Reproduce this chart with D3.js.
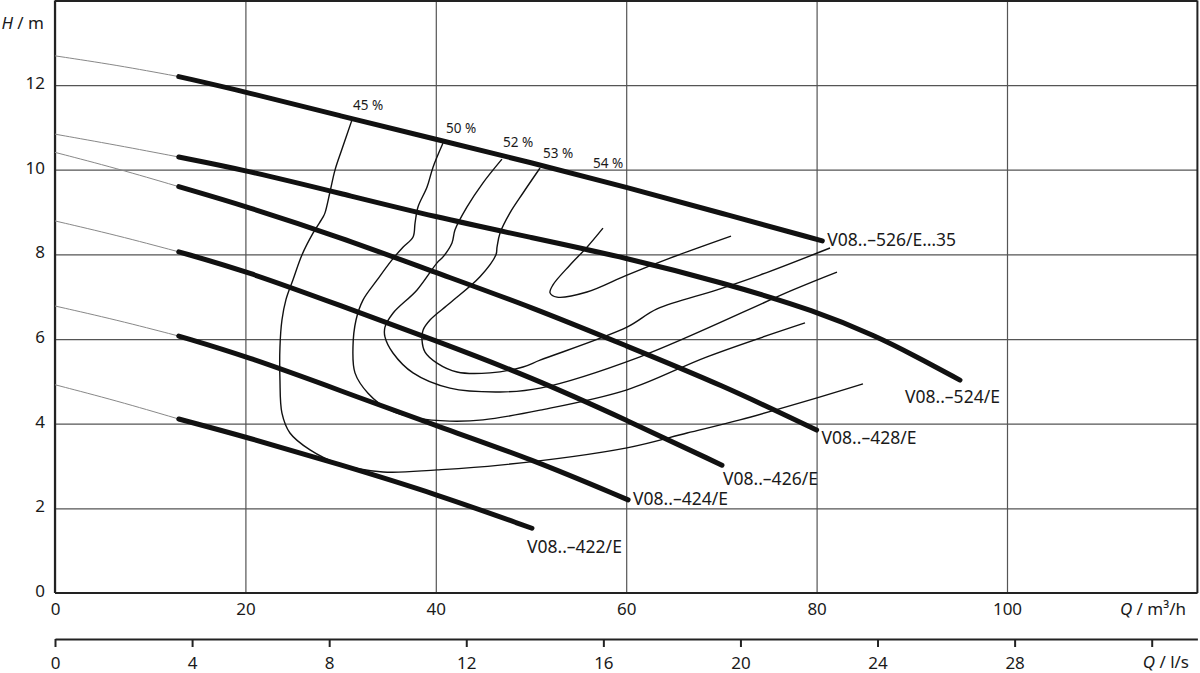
<!DOCTYPE html>
<html><head><meta charset="utf-8">
<script src="https://cdn.jsdelivr.net/npm/d3@7"></script>
<style>
body{margin:0;background:#fff}
svg{display:block}
text{font-family:"Noto Sans",sans-serif;fill:#1a1a1a}
</style>
</head><body>
<svg id="chart" width="1200" height="673"></svg>
<script>
// ---------- data ----------
const qTicks = [0, 20, 40, 60, 80, 100];
const hTicks = [0, 2, 4, 6, 8, 10, 12];
const lsTicks = [0, 4, 8, 12, 16, 20, 24, 28, 32];
const lsLabels = [0, 4, 8, 12, 16, 20, 24, 28];

const pumpNames = ["V08..–526/E…35", "V08..–524/E", "V08..–428/E", "V08..–426/E", "V08..–424/E", "V08..–422/E"];

// thick operating ranges [Q m3/h, H m]
const pump526 = [[13,12.2],[20,11.84],[30,11.27],[40,10.72],[50,10.17],[60,9.59],[70,8.97],[80.6,8.32]];
const pump524 = [[13,10.30],[20,9.99],[30,9.44],[40,8.88],[50,8.40],[60,7.92],[70,7.34],[80,6.66],[86.5,6.04],[90,5.64],[95.06,5.03]];
const pump428 = [[13,9.60],[20,9.14],[30,8.40],[40,7.57],[50,6.76],[60,5.84],[70,4.92],[80,3.85]];
const pump426 = [[13,8.06],[20,7.61],[30,6.79],[40,5.96],[50,5.10],[60,4.09],[70.06,3.02]];
const pump424 = [[13,6.07],[20,5.60],[30,4.78],[40,3.95],[50,3.17],[60.2,2.20]];
const pump422 = [[13,4.11],[20,3.69],[30,3.03],[40,2.34],[50.1,1.53]];

// thin extensions to zero flow
const ext526 = [[0,12.69],[6.5,12.47],[13,12.2]];
const ext524 = [[0,10.84],[6.5,10.58],[13,10.30]];
const ext428 = [[0,10.41],[6.5,10.03],[13,9.60]];
const ext426 = [[0,8.79],[6.5,8.45],[13,8.06]];
const ext424 = [[0,6.78],[6.5,6.45],[13,6.07]];
const ext422 = [[0,4.92],[6.5,4.54],[13,4.11]];

// iso-efficiency curves
const eff45 = [[31.17,11.16],[30.12,10.47],[29.41,9.99],[28.89,9.48],[28.36,8.98],[28.15,8.88],[27.10,8.50],[25.95,7.99],[25.0,7.40],[24.26,6.93],[23.84,6.45],[23.63,5.81],[23.63,5.03],[23.84,4.25],[24.68,3.78],[26.79,3.38],[29.62,3.07],[34.45,2.86],[40.13,2.91],[46.74,3.02],[60.08,3.43],[66.39,3.78],[71.95,4.09],[80.04,4.61],[84.87,4.94]];
const eff50 = [[40.76,10.63],[39.71,10.06],[39.08,9.59],[38.13,9.12],[37.82,8.74],[37.61,8.41],[36.55,8.17],[35.40,7.87],[33.82,7.39],[32.35,6.92],[31.62,6.45],[31.30,5.81],[31.51,5.20],[32.88,4.72],[35.19,4.32],[38.03,4.13],[41.49,4.06],[44.96,4.09],[50.95,4.32],[60.08,4.80],[68.49,5.58],[78.78,6.38]];
const eff52 = [[46.95,10.25],[44.96,9.69],[43.28,9.12],[42.02,8.58],[41.70,8.27],[40.76,7.94],[40.13,7.80],[38.03,7.16],[35.50,6.61],[34.66,6.28],[34.66,6.05],[35.50,5.67],[37.61,5.20],[41.49,4.84],[46.74,4.75],[50.95,4.84],[61.45,5.58],[77.52,7.16],[82.14,7.58]];
const eff53 = [[50.95,10.04],[49.16,9.45],[47.79,8.98],[46.74,8.50],[46.43,8.17],[46.32,7.99],[44.64,7.47],[41.49,6.85],[39.39,6.45],[38.66,6.21],[38.55,5.98],[38.87,5.69],[40.13,5.43],[42.23,5.22],[45.69,5.20],[49.16,5.34],[50.95,5.50],[60.08,6.28],[63.24,6.71],[69.54,7.16],[74.05,7.51],[81.41,8.15]];
const eff54 = [[57.56,8.62],[55.88,8.17],[54.10,7.75],[52.31,7.28],[52.0,7.09],[52.73,6.99],[55.88,7.11],[60.08,7.51],[64.60,7.91],[71.01,8.43]];

const effNames = ["45 %", "50 %", "52 %", "53 %", "54 %"];
const effLabelQ = [31.3, 41.07, 47.06, 51.26, 56.51];
const effLabelH = [11.41, 10.87, 10.54, 10.28, 10.04];

// ---------- layout ----------
const svg = d3.select("#chart");
const x = d3.scaleLinear().domain([0, 120]).range([55, 1197.4]);
const y = d3.scaleLinear().domain([0, 14]).range([593, 0.4]);
const xls = d3.scaleLinear().domain([0, 120 / 3.6]).range([55, 1197.4]);

// grid + tick labels
const gx = svg.append("g").attr("transform", `translate(0,${y(0)})`)
  .call(d3.axisBottom(x).tickValues(qTicks).tickSize(-(y(0) - y(14))).tickSizeOuter(0).tickPadding(10).tickFormat(d3.format("d")));
gx.select(".domain").remove();
gx.selectAll(".tick line").attr("stroke", "#555").attr("stroke-width", 1.2);
gx.selectAll(".tick text").attr("font-size", 17).attr("fill", "#1a1a1a").attr("font-family", "Noto Sans");

const gy = svg.append("g").attr("transform", `translate(${x(0)},0)`)
  .call(d3.axisLeft(y).tickValues(hTicks).tickSize(-(x(120) - x(0))).tickSizeOuter(0).tickPadding(10).tickFormat(d3.format("d")));
gy.select(".domain").remove();
gy.selectAll(".tick line").attr("stroke", "#555").attr("stroke-width", 1.2);
gy.selectAll(".tick text").attr("font-size", 17).attr("dy", "0.2em").attr("fill", "#1a1a1a").attr("font-family", "Noto Sans");

// frame
const fr = svg.append("g").attr("stroke", "#222").attr("fill", "none");
fr.append("line").attr("x1", x(0)).attr("x2", x(0)).attr("y1", y(14)).attr("y2", y(0)).attr("stroke-width", 2.2);
fr.append("line").attr("x1", x(0)).attr("x2", x(120)).attr("y1", y(0)).attr("y2", y(0)).attr("stroke-width", 2.2);
fr.append("line").attr("x1", x(0)).attr("x2", x(120)).attr("y1", y(14) + 0.6).attr("y2", y(14) + 0.6).attr("stroke-width", 2);
fr.append("line").attr("x1", x(120)).attr("x2", x(120)).attr("y1", y(14)).attr("y2", y(0)).attr("stroke-width", 2);

// second axis l/s
const gls = svg.append("g").attr("transform", "translate(0,639)")
  .call(d3.axisBottom(xls).tickValues(lsTicks).tickSize(8).tickSizeOuter(0).tickPadding(10)
    .tickFormat(d => lsLabels.includes(d) ? d3.format("d")(d) : ""));
gls.select(".domain").attr("stroke", "#222").attr("stroke-width", 2);
gls.selectAll(".tick line").attr("stroke", "#222").attr("stroke-width", 2);
gls.selectAll(".tick text").attr("font-size", 17).attr("fill", "#1a1a1a").attr("font-family", "Noto Sans");

// axis titles
const t1 = svg.append("text").attr("x", 44).attr("y", 29).attr("text-anchor", "end").attr("font-size", 17);
t1.append("tspan").attr("font-style", "italic").text("H");
t1.append("tspan").text(" / m");
const t2 = svg.append("text").attr("x", 1186).attr("y", 615).attr("text-anchor", "end").attr("font-size", 17);
t2.append("tspan").attr("font-style", "italic").text("Q");
t2.append("tspan").text(" / m³/h");
const t3 = svg.append("text").attr("x", 1189).attr("y", 668).attr("text-anchor", "end").attr("font-size", 17);
t3.append("tspan").attr("font-style", "italic").text("Q");
t3.append("tspan").text(" / l/s");

// lines
const lineSmooth = d3.line().x(d => x(d[0])).y(d => y(d[1])).curve(d3.curveBasis);
const lineContour = d3.line().x(d => x(d[0])).y(d => y(d[1])).curve(d3.curveCatmullRom.alpha(0.5));

const exts = [ext526, ext524, ext428, ext426, ext424, ext422];
svg.append("g").selectAll("path").data(exts).join("path")
  .attr("d", lineSmooth).attr("fill", "none").attr("stroke", "#888").attr("stroke-width", 1);

const effs = [eff45, eff50, eff52, eff53, eff54];
svg.append("g").selectAll("path").data(effs).join("path")
  .attr("d", lineContour).attr("fill", "none").attr("stroke", "#111").attr("stroke-width", 1.4);

const pumps = [pump526, pump524, pump428, pump426, pump424, pump422];
svg.append("g").selectAll("path").data(pumps).join("path")
  .attr("d", lineSmooth).attr("fill", "none").attr("stroke", "#111").attr("stroke-width", 5).attr("stroke-linecap", "round");

// efficiency labels
svg.append("g").selectAll("text").data(effNames).join("text")
  .attr("x", (d, i) => x(effLabelQ[i])).attr("y", (d, i) => y(effLabelH[i]))
  .attr("font-size", 13.5).text(d => d);

// curve labels (pixel offsets relative to curve end)
const labelDx = [5, -55, 5, 1, 5, -5];
const labelDy = [5, 23, 14, 20, 5, 25];
svg.append("g").selectAll("text").data(pumpNames).join("text")
  .attr("x", (d, i) => x(pumps[i][pumps[i].length - 1][0]) + labelDx[i])
  .attr("y", (d, i) => y(pumps[i][pumps[i].length - 1][1]) + labelDy[i])
  .attr("font-size", 17.5).text(d => d);
</script>
</body></html>
